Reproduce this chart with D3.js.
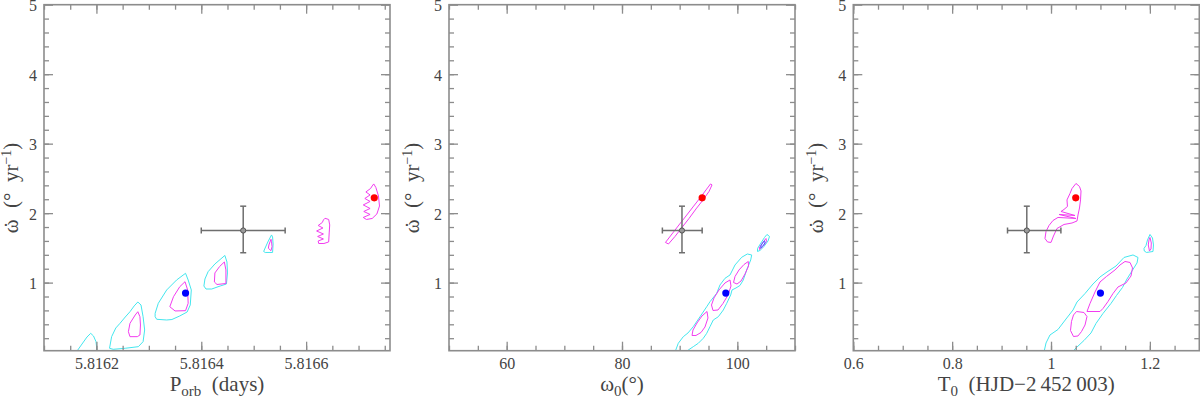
<!DOCTYPE html>
<html>
<head>
<meta charset="utf-8">
<script src="https://cdn.jsdelivr.net/npm/d3@7"></script>
<style>
  body { margin: 0; background: #fff; }
  svg { display: block; }
  text { font-family: "Liberation Serif", "DejaVu Serif", serif; fill: #444; }
</style>
</head>
<body>
<script>
// tick labels
var yTicks = [1, 2, 3, 4, 5];
var pTicks = [5.8162, 5.8164, 5.8166];
var w0Ticks = [60, 80, 100];
var t0Ticks = [0.6, 0.8, 1, 1.2];

// the two best fits (blue, red): omega-dot and the x value in each panel
var fitWdot = [0.85, 2.22];
var fitP = [5.81637, 5.81673];
var fitW0 = [98.0, 93.9];
var fitT0 = [1.10, 1.05];

// literature solution with errors: value, low, high
var litWdot = [1.75, 1.43, 2.10];
var litP = [5.81648, 5.81640, 5.81656];
var litW0 = [90.4, 87.0, 93.9];
var litT0 = [0.951, 0.912, 1.020];

// confidence contours, [x, omega-dot]; c2 = outer, c1 = inner, c0 = innermost
var contP = [
  {lev: "c2", pts: [[5.8161635,0.0],[5.8161635,0.02],[5.8161725,0.116],[5.816182,0.217],[5.8161891,0.27],[5.8161944,0.232],[5.8161992,0.15],[5.8162001,0.088],[5.8162007,0.0]]},
  {lev: "c2", pts: [[5.816225,0.055],[5.816229,0.222],[5.816237,0.347],[5.816245,0.414],[5.816255,0.505],[5.816264,0.581],[5.816272,0.664],[5.816279,0.721],[5.816285,0.678],[5.816289,0.509],[5.816292,0.318],[5.816289,0.15],[5.816280,0.078],[5.816255,0.055],[5.816232,0.04]]},
  {lev: "c1", pts: [[5.816279,0.581],[5.816283,0.509],[5.816284,0.39],[5.816283,0.246],[5.816278,0.222],[5.816264,0.222],[5.816261,0.294],[5.816264,0.414],[5.816274,0.534]]},
  {lev: "c2", pts: [[5.816370,1.134],[5.816375,1.038],[5.816381,0.894],[5.816379,0.678],[5.816373,0.577],[5.816359,0.52],[5.816344,0.469],[5.816334,0.462],[5.816315,0.472],[5.816312,0.509],[5.816312,0.558],[5.816318,0.702],[5.816334,0.894],[5.816353,1.038]]},
  {lev: "c1", pts: [[5.816369,1.013],[5.816374,0.894],[5.816375,0.702],[5.816370,0.596],[5.816350,0.592],[5.816340,0.653],[5.816347,0.797],[5.816359,0.941]]},
  {lev: "c2", pts: [[5.816445,1.391],[5.816449,1.297],[5.816450,1.139],[5.816448,0.98],[5.816436,0.951],[5.816420,0.908],[5.816409,0.908],[5.816405,0.951],[5.816407,1.052],[5.816413,1.157],[5.816426,1.268]]},
  {lev: "c1", pts: [[5.816444,1.297],[5.816447,1.182],[5.816447,0.987],[5.816430,0.973],[5.816425,1.009],[5.816426,1.139],[5.816435,1.232]]},
  {lev: "c2", pts: [[5.816534,1.686],[5.816527,1.585],[5.816521,1.484],[5.816519,1.448],[5.816522,1.434],[5.816536,1.434],[5.816537,1.556],[5.816536,1.657]]},
  {lev: "c1", pts: [[5.816533,1.624],[5.816529,1.542],[5.816528,1.494],[5.816533,1.46],[5.816535,1.517],[5.816534,1.589]]},
  {lev: "c1", pts: [[5.816636,1.926],[5.816643,1.909],[5.816645,1.83],[5.816644,1.715],[5.816643,1.585],[5.816634,1.563],[5.816624,1.563],[5.816623,1.599],[5.816633,1.628],[5.816622,1.664],[5.816633,1.70],[5.816620,1.743],[5.816632,1.786],[5.816623,1.822],[5.816631,1.866],[5.816633,1.902]]},
  {lev: "c1", pts: [[5.816729,2.42],[5.816733,2.37],[5.816738,2.247],[5.816740,2.103],[5.816735,1.988],[5.816726,1.923],[5.816715,1.909],[5.816709,1.938],[5.816722,1.981],[5.816710,2.024],[5.816722,2.067],[5.816709,2.118],[5.816722,2.168],[5.816712,2.211],[5.816722,2.262],[5.816714,2.305],[5.816723,2.355],[5.816726,2.391]]}
];

var contW0 = [
  {lev: "c1", pts: [[87.54,1.578],[88.67,1.70],[89.88,1.83],[91.10,1.959],[92.31,2.089],[93.53,2.218],[94.57,2.334],[95.35,2.42],[95.61,2.406],[95.09,2.312],[94.05,2.19],[92.83,2.06],[91.62,1.923],[90.40,1.794],[89.19,1.664],[88.06,1.556]]},
  {lev: "c2", pts: [[89.19,0],[89.76,0.127],[90.63,0.222],[91.44,0.275],[92.36,0.366],[93.53,0.509],[94.69,0.653],[95.26,0.725],[96.42,0.846],[96.99,0.966],[97.86,1.062],[98.73,1.11],[99.60,1.254],[100.76,1.365],[101.73,1.412],[102.49,1.398],[102.32,1.326],[101.62,1.182],[101.03,1.038],[100.46,0.959],[99.77,0.923],[99.08,0.894],[98.85,0.822],[98.16,0.702],[97.57,0.606],[96.70,0.509],[95.83,0.462],[95.26,0.366],[94.69,0.27],[94.10,0.199],[93.23,0.127],[92.36,0.078],[91.50,0.03],[91.10,0]]},
  {lev: "c1", pts: [[94.74,0.584],[93.87,0.52],[93.01,0.419],[92.31,0.318],[92.14,0.239],[92.83,0.239],[93.70,0.282],[94.39,0.361],[94.91,0.491]]},
  {lev: "c1", pts: [[98.73,1.038],[97.86,0.995],[96.82,0.894],[95.95,0.779],[95.52,0.678],[95.78,0.599],[96.65,0.606],[97.51,0.70],[98.38,0.822],[98.90,0.951]]},
  {lev: "c1", pts: [[101.90,1.304],[101.16,1.261],[100.29,1.182],[99.60,1.088],[99.34,1.002],[99.94,0.98],[100.64,1.023],[101.33,1.124],[101.94,1.239]]},
  {lev: "c2", pts: [[105.14,1.693],[105.58,1.664],[105.32,1.599],[104.62,1.52],[103.93,1.463],[103.50,1.448],[103.50,1.491],[104.10,1.571],[104.71,1.65]]},
  {lev: "c1", pts: [[104.97,1.635],[105.06,1.592],[104.45,1.52],[103.84,1.477],[103.81,1.499],[104.28,1.563]]},
  {lev: "c0", pts: [[104.75,1.60],[104.80,1.57],[104.35,1.52],[104.05,1.50],[104.10,1.53],[104.45,1.58]]}
];

var contT0 = [
  {lev: "c1", pts: [[1.0505,2.427],[1.0576,2.384],[1.0607,2.319],[1.0597,2.19],[1.0576,2.074],[1.0546,1.974],[1.0526,1.887],[1.0425,1.858],[1.0263,1.837],[1.0121,1.779],[1.0050,1.671],[1.0000,1.578],[0.9929,1.585],[0.9878,1.635],[0.9899,1.736],[0.9959,1.822],[1.0040,1.894],[1.0141,1.938],[1.0505,1.923],[1.0162,1.981],[1.0485,1.966],[1.0202,2.024],[1.0263,2.053],[1.0333,2.096],[1.0323,2.19],[1.0384,2.283],[1.0425,2.355]]},
  {lev: "c2", pts: [[0.9858,0],[0.9899,0.131],[0.9979,0.246],[1.0141,0.325],[1.0303,0.476],[1.0445,0.606],[1.0526,0.721],[1.0688,0.843],[1.0849,0.98],[1.0991,1.081],[1.1133,1.153],[1.1315,1.239],[1.1477,1.362],[1.1659,1.398],[1.1760,1.362],[1.1740,1.283],[1.1638,1.167],[1.1537,1.052],[1.1446,0.93],[1.1325,0.815],[1.1213,0.70],[1.1052,0.556],[1.0910,0.412],[1.0809,0.275],[1.0667,0.167],[1.0526,0.073],[1.0425,0]]},
  {lev: "c1", pts: [[1.1497,1.304],[1.1598,1.29],[1.1649,1.211],[1.1618,1.095],[1.1517,0.995],[1.1355,0.937],[1.1254,0.843],[1.1153,0.728],[1.1052,0.628],[1.0991,0.584],[1.0728,0.584],[1.0789,0.70],[1.0890,0.865],[1.0991,1.009],[1.1122,1.088],[1.1294,1.182],[1.1396,1.254]]},
  {lev: "c1", pts: [[1.0516,0.584],[1.0667,0.57],[1.0728,0.512],[1.0688,0.39],[1.0617,0.296],[1.0546,0.232],[1.0455,0.224],[1.0394,0.311],[1.0414,0.44],[1.0455,0.534]]},
  {lev: "c2", pts: [[1.2002,1.693],[1.2053,1.642],[1.2073,1.542],[1.2063,1.448],[1.1932,1.434],[1.1887,1.455],[1.1881,1.491],[1.1922,1.535],[1.1952,1.614]]},
  {lev: "c1", pts: [[1.2002,1.65],[1.2029,1.571],[1.2023,1.484],[1.1992,1.455],[1.1968,1.542],[1.1982,1.614]]}
];

var W = 1200, H = 397;
var plotTop = 4.7, plotBottom = 350.7, pw = 346;
var levColor = {c2: "#44e6ee", c1: "#f23cf0", c0: "#3a5cff"};
var axisCol = "#8c8c8c";

var panels = [
  {left: 44, dom: [5.8161, 5.81676], ticks: pTicks, step: 0.00005,
   fmt: function(d) { return d.toFixed(4); }, cont: contP, fit: fitP, lit: litP, ylab: 18},
  {left: 449, dom: [50, 110], ticks: w0Ticks, step: 5,
   fmt: function(d) { return String(d); }, cont: contW0, fit: fitW0, lit: litW0, ylab: 419},
  {left: 853.3, dom: [0.6, 1.3], ticks: t0Ticks, step: 0.05,
   fmt: function(d) { return String(d); }, cont: contT0, fit: fitT0, lit: litT0, ylab: 823}
];

var svg = d3.select("body").append("svg").attr("width", W).attr("height", H);
var y = d3.scaleLinear().domain([0.02, 5]).range([plotBottom, plotTop]);
var yMinor = d3.range(1, 25).map(function(i) { return i * 0.2; });

function minorTicks(dom, step) {
  var n0 = Math.ceil(dom[0] / step - 1e-6), n1 = Math.floor(dom[1] / step + 1e-6);
  return d3.range(n0, n1 + 1).map(function(i) { return i * step; });
}

function styleAxis(g) {
  g.select(".domain").remove();
  g.selectAll(".tick line").attr("stroke", axisCol).attr("stroke-width", 1.3);
  g.selectAll(".tick text").attr("fill", "#444").attr("font-size", 16)
    .attr("font-family", "Liberation Serif, DejaVu Serif, serif");
}

panels.forEach(function(p, i) {
  var x = d3.scaleLinear().domain(p.dom).range([p.left, p.left + pw]);
  var g = svg.append("g");
  var minor = minorTicks(p.dom, p.step);

  g.append("clipPath").attr("id", "clip" + i)
    .append("rect").attr("x", p.left).attr("y", plotTop).attr("width", pw).attr("height", plotBottom - plotTop);

  // contours
  var line = d3.line().x(function(d) { return x(d[0]); }).y(function(d) { return y(d[1]); })
    .curve(d3.curveLinearClosed);
  g.append("g").attr("clip-path", "url(#clip" + i + ")")
    .selectAll("path").data(p.cont).enter().append("path")
      .attr("d", function(d) { return line(d.pts); })
      .attr("fill", "none")
      .attr("stroke", function(d) { return levColor[d.lev]; })
      .attr("stroke-width", 1);

  // axes, ticks inward on all four sides
  g.append("g").attr("transform", "translate(0," + plotBottom + ")")
    .call(d3.axisBottom(x).tickValues(minor).tickSize(-5).tickFormat("")).call(styleAxis);
  g.append("g").attr("transform", "translate(0," + plotBottom + ")")
    .call(d3.axisBottom(x).tickValues(p.ticks).tickSize(-9).tickPadding(6.5).tickFormat(p.fmt)).call(styleAxis);
  g.append("g").attr("transform", "translate(0," + plotTop + ")")
    .call(d3.axisTop(x).tickValues(minor).tickSize(-5).tickFormat("")).call(styleAxis);
  g.append("g").attr("transform", "translate(0," + plotTop + ")")
    .call(d3.axisTop(x).tickValues(p.ticks).tickSize(-9).tickFormat("")).call(styleAxis);
  g.append("g").attr("transform", "translate(" + p.left + ",0)")
    .call(d3.axisLeft(y).tickValues(yMinor).tickSize(-5).tickFormat("")).call(styleAxis);
  g.append("g").attr("transform", "translate(" + p.left + ",0)")
    .call(d3.axisLeft(y).tickValues(yTicks).tickSize(-9).tickPadding(7).tickFormat(d3.format("d")))
    .call(styleAxis)
    .call(function(a) { a.selectAll(".tick text").attr("dy", "0.38em"); });
  g.append("g").attr("transform", "translate(" + (p.left + pw) + ",0)")
    .call(d3.axisRight(y).tickValues(yMinor).tickSize(-5).tickFormat("")).call(styleAxis);
  g.append("g").attr("transform", "translate(" + (p.left + pw) + ",0)")
    .call(d3.axisRight(y).tickValues(yTicks).tickSize(-9).tickFormat("")).call(styleAxis);

  g.append("rect").attr("x", p.left).attr("y", plotTop).attr("width", pw).attr("height", plotBottom - plotTop)
    .attr("fill", "none").attr("stroke", axisCol).attr("stroke-width", 1.6);

  // literature value with error bars
  var eb = g.append("g").attr("stroke", "#6e6e6e").attr("stroke-width", 1.5).attr("fill", "none");
  var cx = x(p.lit[0]), cy = y(litWdot[0]);
  eb.append("line").attr("x1", x(p.lit[1])).attr("x2", x(p.lit[2])).attr("y1", cy).attr("y2", cy);
  eb.append("line").attr("x1", cx).attr("x2", cx).attr("y1", y(litWdot[1])).attr("y2", y(litWdot[2]));
  [p.lit[1], p.lit[2]].forEach(function(v) {
    eb.append("line").attr("x1", x(v)).attr("x2", x(v)).attr("y1", cy - 3).attr("y2", cy + 3);
  });
  [litWdot[1], litWdot[2]].forEach(function(v) {
    eb.append("line").attr("x1", cx - 3).attr("x2", cx + 3).attr("y1", y(v)).attr("y2", y(v));
  });
  g.append("circle").attr("cx", cx).attr("cy", cy).attr("r", 2.6)
    .attr("fill", "#9a9a9a").attr("stroke", "#555").attr("stroke-width", 1);

  // best fit points
  g.selectAll(".fit").data([0, 1]).enter().append("circle")
    .attr("cx", function(k) { return x(p.fit[k]); })
    .attr("cy", function(k) { return y(fitWdot[k]); })
    .attr("r", 3.6)
    .attr("fill", function(k) { return k === 0 ? "#0000ff" : "#ff0000"; });

  // y title: omega with a dot above it
  var yt = g.append("text").attr("transform", "translate(" + p.ylab + ",188) rotate(-90)")
    .attr("text-anchor", "middle").attr("font-size", 21).attr("fill", "#444");
  yt.append("tspan").text("\u03C9");
  yt.append("tspan").attr("dx", -9).attr("dy", 1).text("\u02D9");
  yt.append("tspan").attr("dx", 3).attr("dy", -1).text("\u2002(\u00B0\u2002yr");
  yt.append("tspan").attr("dy", -7).attr("font-size", 14).text("\u22121");
  yt.append("tspan").attr("dy", 7).text(")");
});

// x titles
function xTitle(cx, parts) {
  var t = svg.append("text").attr("x", cx).attr("y", 391).attr("text-anchor", "middle")
    .attr("font-size", 21).attr("fill", "#444");
  parts.forEach(function(s) {
    t.append("tspan").attr("dy", s[1]).attr("font-size", s[2] || 21).text(s[0]);
  });
}
xTitle(217, [["P", 0], ["orb", 5, 15], ["\u2002(days)", -5]]);
xTitle(622, [["\u03C9", 0], ["0", 5, 15], ["(\u00B0)", -5]]);
xTitle(1026.3, [["T", 0], ["0", 5, 15], ["\u2002(HJD\u22122\u2009452\u2009003)", -5]]);
</script>
</body>
</html>
